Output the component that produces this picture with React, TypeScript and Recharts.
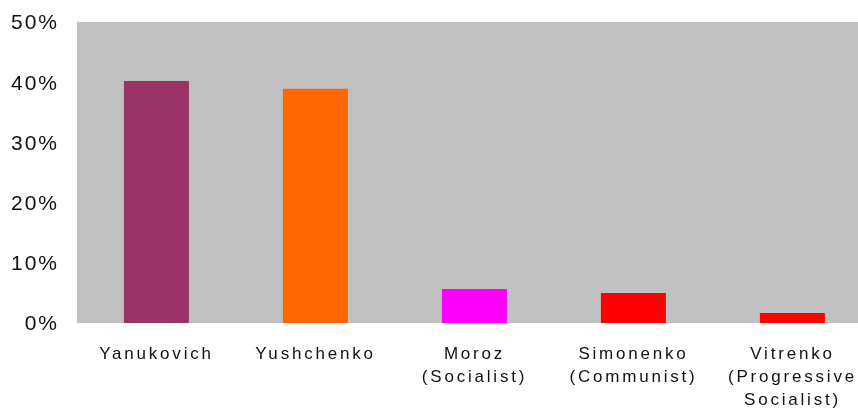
import React from "react";
import { BarChart, Bar, XAxis, YAxis, CartesianGrid, Cell } from "recharts";

const candidates = ["Yanukovich", "Yushchenko", "Moroz", "Simonenko", "Vitrenko"];
const tickLabels: string[][] = [
  ["Yanukovich"],
  ["Yushchenko"],
  ["Moroz", "(Socialist)"],
  ["Simonenko", "(Communist)"],
  ["Vitrenko", "(Progressive", "Socialist)"],
];
const voteShare = [40.2, 38.9, 5.65, 5.0, 1.65];
const barColors = ["#993366", "#FF6600", "#FF00FF", "#FF0000", "#FF0000"];
const yTicks = [0, 10, 20, 30, 40, 50];

const data = candidates.map((name, i) => ({ name, value: voteShare[i], idx: i }));

const XTick = (props: any) => {
  const { x, y, payload } = props;
  const lines = tickLabels[payload.index] || [payload.value];
  return (
    <text
      x={x}
      y={y}
      textAnchor="middle"
      fill="#111"
      fontSize={17}
      fontFamily="'Liberation Sans', Arial, sans-serif"
      letterSpacing={2.8}
    >
      {lines.map((l, i) => (
        <tspan key={i} x={x} dy={i === 0 ? 36 : 23}>
          {l}
        </tspan>
      ))}
    </text>
  );
};

export default function App() {
  return (
    <div style={{ position: "fixed", left: 8, top: 8, width: 864, height: 401 }}>
      <BarChart
        width={864}
        height={401}
        data={data}
        margin={{ top: 14, right: 0, bottom: 0, left: 0 }}
        barCategoryGap="29.5%"
      >
        <CartesianGrid fill="#C0C0C0" stroke="#C0C0C0" strokeOpacity={0} />
        <XAxis
          dataKey="name"
          axisLine={false}
          tickLine={false}
          tickSize={0}
          tickMargin={0}
          height={86}
          interval={0}
          tick={<XTick />}
        />
        <YAxis
          width={69}
          domain={[0, 50]}
          ticks={yTicks}
          axisLine={false}
          tickLine={false}
          tickSize={0}
          tickMargin={18}
          tickFormatter={(v: number) => `${v}%`}
          tick={{
            fontSize: 21,
            fill: "#111",
            fontFamily: "'Liberation Sans', Arial, sans-serif",
            letterSpacing: 2,
          }}
        />
        <Bar dataKey="value" isAnimationActive={false}>
          {data.map((d, i) => (
            <Cell key={i} fill={barColors[i]} />
          ))}
        </Bar>
      </BarChart>
    </div>
  );
}
